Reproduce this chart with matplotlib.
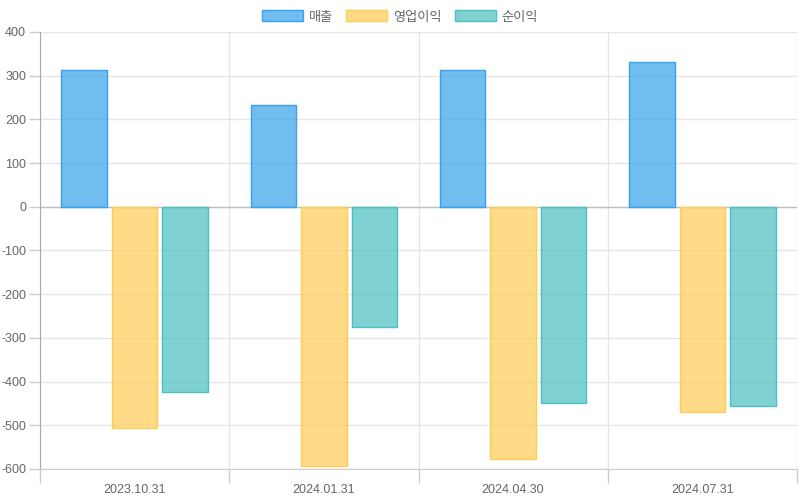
# Quarterly revenue / operating income / net income, grouped bars
import numpy as np
import matplotlib.pyplot as plt
from matplotlib.ticker import FixedLocator, MultipleLocator

plt.rcParams['font.family'] = ['Liberation Sans', 'Noto Sans CJK KR', 'DejaVu Sans']
plt.rcParams['axes.unicode_minus'] = False

# Data
periods = ['2023.10.31', '2024.01.31', '2024.04.30', '2024.07.31']
series_names = ['매출', '영업이익', '순이익']
revenue = [313, 233, 313, 331]
op_income = [-507, -592, -576, -469]
net_income = [-423, -274, -448, -455]

fills = [(54/255, 162/255, 235/255, 0.7),
         (255/255, 205/255, 86/255, 0.7),
         (75/255, 192/255, 192/255, 0.7)]
edges = ['#36a2eb', '#ffcd56', '#4bc0c0']

fig = plt.figure(figsize=(8, 5), dpi=100)
ax = fig.add_axes([40/800, 1 - 469/500, 757/800, (469 - 32)/500])

x = np.arange(len(periods))
n = len(series_names)
slot = 0.8 / n
width = slot * 0.9
for i, vals in enumerate([revenue, op_income, net_income]):
    pos = x - 0.4 + slot * (i + 0.5)
    ax.bar(pos, vals, width=width, color=fills[i], edgecolor=edges[i],
           linewidth=1, label=series_names[i], zorder=3)

ax.set_xlim(-0.5, len(periods) - 0.5)
ax.set_ylim(-600, 400)
ax.yaxis.set_major_locator(MultipleLocator(100))

ax.set_xticks(x)
ax.set_xticklabels(periods)
ax.xaxis.set_minor_locator(FixedLocator(np.arange(-0.5, len(periods), 1.0)))
ax.tick_params(axis='x', which='major', length=0, pad=11, labelsize=9, labelcolor='#666666')
ax.tick_params(axis='x', which='minor', length=10, color='#cccccc', width=1)
ax.tick_params(axis='y', length=8, color='#cccccc', width=1, labelsize=9,
               labelcolor='#666666', pad=2)

ax.grid(True, axis='y', color='#e6e6e6', alpha=1, linewidth=1, zorder=0)
ax.grid(True, axis='x', which='minor', color='#e6e6e6', alpha=1, linewidth=1, zorder=0)
ax.axhline(0, color='#bfbfbf', linewidth=1, zorder=2)

for side in ['top', 'right']:
    ax.spines[side].set_visible(False)
ax.spines['left'].set_color('#aaaaaa')
ax.spines['bottom'].set_color('#cccccc')

leg = ax.legend(loc='center', bbox_to_anchor=(0.5, 1 - 17/500), bbox_transform=fig.transFigure,
                ncol=3, frameon=False, fontsize=9.5, handlelength=3.1, handleheight=0.9,
                handletextpad=0.45, columnspacing=1.0)
for t in leg.get_texts():
    t.set_color('#666666')

fig.savefig('out.png', dpi=100)
